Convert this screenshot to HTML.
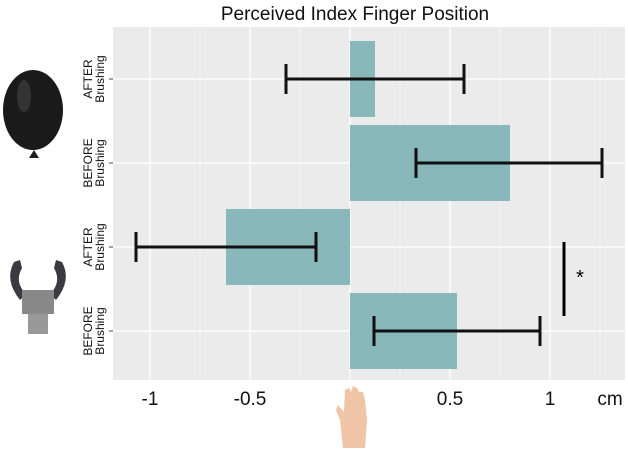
<!DOCTYPE html>
<html><head><meta charset="utf-8"><style>
body{margin:0;background:#fff;}
svg{display:block;font-family:"Liberation Sans",sans-serif;}
</style></head><body>
<svg id="chart" width="628" height="453" viewBox="0 0 628 453">
<text x="355" y="20" font-size="19" text-anchor="middle" fill="#111">Perceived Index Finger Position</text>
<rect x="113" y="27" width="512" height="353" fill="#ebebeb"/>
<g id="grid"></g><g id="bars"></g><g id="errs"></g><g id="ylabels"></g><g id="xlabels"></g>
<line x1="564" y1="242" x2="564" y2="316" stroke="#000" stroke-width="3"/>
<text x="580" y="284" font-size="20" text-anchor="middle">*</text>
<text x="610" y="405" font-size="19" text-anchor="middle" fill="#111">cm</text>
<g>
<ellipse cx="33" cy="110" rx="30" ry="40" fill="#1a1a1a"/>
<ellipse cx="24" cy="96" rx="7" ry="16" fill="#444" opacity="0.6"/>
<path d="M29 158 L34 150 L39 158 Z" fill="#1a1a1a"/>
</g>
<g>
<path d="M20 300 Q4 280 14 262 L20 260 L22 268 Q14 282 26 294 Z" fill="#3a3a40"/>
<path d="M56 300 Q72 280 62 262 L56 260 L54 268 Q62 282 50 294 Z" fill="#3a3a40"/>
<rect x="22" y="290" width="32" height="24" fill="#888"/>
<rect x="28" y="314" width="20" height="20" fill="#999"/>
</g>
<g>
<path d="M343 448 L340 420 L336 410 L338 405 L344 412 L345 390 L349 388 L351 392 L353 386 L357 388 L359 392 L363 392 L365 400 L367 420 L365 448 Z" fill="#f0c4a6"/>
</g>
</svg>
<script>
const categories=["AFTER|Brushing","BEFORE|Brushing","AFTER|Brushing","BEFORE|Brushing"];
const means=[0.125,0.8,-0.62,0.535];
const errLow=[-0.32,0.33,-1.07,0.12];
const errHigh=[0.57,1.26,-0.17,0.95];
const xTicks=[-1,-0.5,0.5,1];
const xTickLabels=["-1","-0.5","0.5","1"];
const minorTicks=[-0.75,-0.25,0.25,0.75,1.25];
const majorGrid=[-1,-0.5,0,0.5,1];
const NS="http://www.w3.org/2000/svg";
const x=v=>350+v*200;
const band=84, y0=37;
const yc=i=>y0+band*i+band/2;
function mk(p,t,a){const e=document.createElementNS(NS,t);for(const k in a)e.setAttribute(k,a[k]);document.getElementById(p).appendChild(e);return e;}
minorTicks.forEach(v=>{const e=mk('grid','line',{x1:x(v),x2:x(v),y1:27,y2:380,stroke:'#f7f7f7','stroke-width':0.7});

});
majorGrid.forEach(v=>{const e=mk('grid','line',{x1:x(v),x2:x(v),y1:27,y2:380,stroke:'#fff','stroke-width':1.3});

});
categories.forEach((c,i)=>{const e=mk('grid','line',{x1:113,x2:625,y1:yc(i),y2:yc(i),stroke:'#fff','stroke-width':1.3});


const t=mk('grid','line',{x1:109,x2:113,y1:yc(i),y2:yc(i),stroke:'#444','stroke-width':1});

});
means.forEach((m,i)=>{const r=mk('bars','rect',{x:Math.min(x(0),x(m)),y:yc(i)-38,width:Math.abs(x(m)-x(0)),height:76,fill:'#88b8ba'});


const g=mk('errs','g',{stroke:'#111','stroke-width':3});


const a=x(errLow[i]),b=x(errHigh[i]),yy=yc(i);
[[a,yy,b,yy],[a,yy-15,a,yy+15],[b,yy-15,b,yy+15]].forEach(l=>{const e=document.createElementNS(NS,'line');e.setAttribute('x1',l[0]);e.setAttribute('y1',l[1]);e.setAttribute('x2',l[2]);e.setAttribute('y2',l[3]);g.appendChild(e);});
const parts=categories[i].split('|');
const t=mk('ylabels','text',{transform:`translate(${92},${yc(i)}) rotate(-90)`,'font-size':12,'text-anchor':'middle',fill:'#111'});


const s1=document.createElementNS(NS,'tspan');s1.setAttribute('x',0);s1.setAttribute('y',0);s1.textContent=parts[0];t.appendChild(s1);
const s2=document.createElementNS(NS,'tspan');s2.setAttribute('x',0);s2.setAttribute('y',12);s2.textContent=parts[1];t.appendChild(s2);});
xTicks.forEach((v,i)=>{const t=mk('xlabels','text',{x:x(v),y:405,'font-size':19,'text-anchor':'middle',fill:'#111'});


t.textContent=xTickLabels[i];});
</script>
</body></html>
